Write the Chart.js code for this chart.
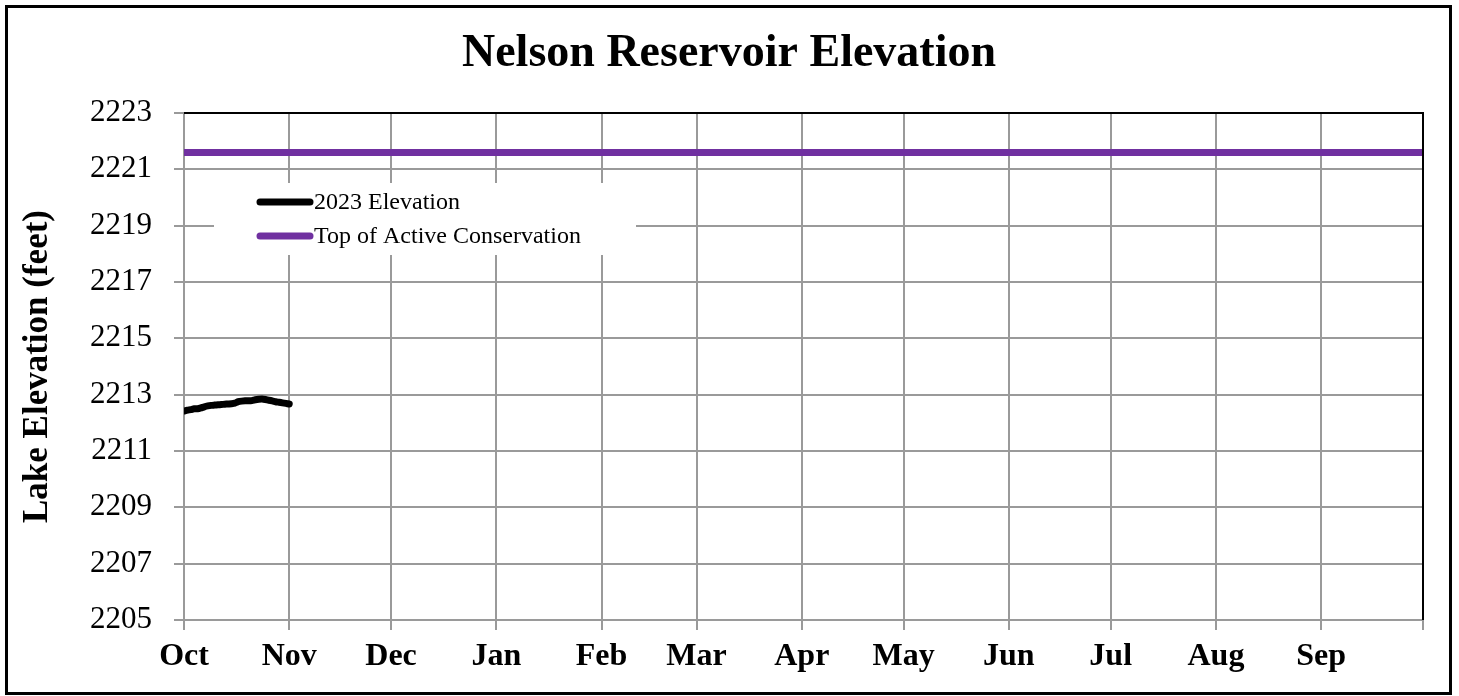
<!DOCTYPE html>
<html>
<head>
<meta charset="utf-8">
<script src="https://cdn.jsdelivr.net/npm/chart.js@4.4.0/dist/chart.umd.min.js"></script>
<style>
    html, body { margin: 0; padding: 0; background: #fff; }
    #wrap { width: 1459px; height: 696px; }
</style>
</head>
<body>
<div id="wrap"><canvas id="chartCanvas" width="1459" height="696"></canvas></div>
<script>
// 月份刻度（以10月1日为第0天）
const monthStarts = [0, 31, 61, 92, 123, 151, 182, 212, 243, 273, 304, 335, 365]
const monthLabels = ['Oct', 'Nov', 'Dec', 'Jan', 'Feb', 'Mar', 'Apr', 'May', 'Jun', 'Jul', 'Aug', 'Sep', '']

// 2023 水位（每日）
const elevDays = [0, 1, 2, 3, 4, 5, 6, 7, 8, 9, 10, 11, 12, 13, 14, 15,
    16, 17, 18, 19, 20, 21, 22, 23, 24, 25, 26, 27, 28, 29, 30, 31]
const elevValues = [2212.42, 2212.45, 2212.47, 2212.50, 2212.50, 2212.53, 2212.57, 2212.60,
    2212.62, 2212.63, 2212.64, 2212.65, 2212.66, 2212.67, 2212.68, 2212.70,
    2212.75, 2212.77, 2212.78, 2212.78, 2212.79, 2212.82, 2212.84, 2212.85,
    2212.83, 2212.80, 2212.78, 2212.75, 2212.73, 2212.71, 2212.69, 2212.67]

// Top of Active Conservation
const conservationDays = [0, 365]
const conservationValues = [2221.6, 2221.6]

const yTicks = [2205, 2207, 2209, 2211, 2213, 2215, 2217, 2219, 2221, 2223]

const chartTitle = 'Nelson Reservoir Elevation'
const serif = '"Liberation Serif", "Times New Roman", serif'

// 标题：居中于整张图
const centerTitle = {
    id: 'centerTitle',
    afterDraw(chart) {
        const ctx = chart.ctx
        ctx.save()
        ctx.fillStyle = '#000'
        ctx.font = 'bold 46px ' + serif
        ctx.textAlign = 'center'
        ctx.textBaseline = 'middle'
        ctx.fillText(chartTitle, 729, 54)
        ctx.restore()
    }
}

// 图内图例（白底）
const insideLegend = {
    id: 'insideLegend',
    afterDraw(chart) {
        const ctx = chart.ctx
        const area = chart.chartArea
        const bx = area.left + 30
        const by = area.top + 70
        ctx.save()
        ctx.fillStyle = '#fff'
        ctx.fillRect(bx, by, 422, 72)
        chart.data.datasets.forEach((ds, i) => {
            const y = by + 19 + i * 34
            ctx.strokeStyle = ds.borderColor
            ctx.lineWidth = 7
            ctx.lineCap = 'round'
            ctx.beginPath()
            ctx.moveTo(bx + 46, y)
            ctx.lineTo(bx + 96, y)
            ctx.stroke()
            ctx.fillStyle = '#000'
            ctx.font = '24px ' + serif
            ctx.textBaseline = 'middle'
            ctx.textAlign = 'left'
            ctx.fillText(ds.label, bx + 100, y + 1)
        })
        ctx.restore()
    }
}

// 绘图区上/右黑边 + 外框
const frame = {
    id: 'frame',
    afterDraw(chart) {
        const ctx = chart.ctx
        const a = chart.chartArea
        ctx.save()
        ctx.strokeStyle = '#000'
        ctx.lineWidth = 2
        ctx.beginPath()
        ctx.moveTo(a.left, a.top)
        ctx.lineTo(a.right, a.top)
        ctx.lineTo(a.right, a.bottom)
        ctx.stroke()
        ctx.lineWidth = 3
        ctx.strokeRect(6.5, 6.5, 1444, 687)
        ctx.restore()
    }
}

const ctx = document.getElementById('chartCanvas').getContext('2d')
const chart = new Chart(ctx, {
    type: 'line',
    data: {
        datasets: [
            {
                label: '2023 Elevation',
                data: elevDays.map((d, i) => ({ x: d, y: elevValues[i] })),
                borderColor: '#000000',
                borderWidth: 7,
                borderCapStyle: 'round',
                pointRadius: 0,
                tension: 0.2
            },
            {
                label: 'Top of Active Conservation',
                data: conservationDays.map((d, i) => ({ x: d, y: conservationValues[i] })),
                borderColor: '#7030A0',
                borderWidth: 7,
                pointRadius: 0
            }
        ]
    },
    options: {
        responsive: false,
        animation: false,
        layout: { padding: { left: 0, right: 36, top: 113, bottom: 0 } },
        plugins: {
            legend: { display: false },
            tooltip: { enabled: false },
            title: { display: false }
        },
        scales: {
            x: {
                type: 'linear',
                min: 0,
                max: 365,
                afterBuildTicks: scale => {
                    scale.ticks = monthStarts.map(v => ({ value: v }))
                },
                afterFit: scale => { scale.height = 76 },
                ticks: {
                    color: '#000',
                    font: { family: serif, size: 32, weight: 'bold' },
                    padding: 8,
                    maxRotation: 0,
                    autoSkip: false,
                    callback: value => monthLabels[monthStarts.indexOf(value)] ?? ''
                },
                grid: { color: '#9a9a9a', lineWidth: 2, tickLength: 10 },
                border: { color: '#9a9a9a', width: 2 }
            },
            y: {
                min: 2205,
                max: 2223,
                afterBuildTicks: scale => {
                    scale.ticks = yTicks.map(v => ({ value: v }))
                },
                afterFit: scale => { scale.width = 184 },
                ticks: {
                    color: '#000',
                    font: { family: serif, size: 31 },
                    padding: 22,
                    callback: value => String(value)
                },
                grid: { color: '#9a9a9a', lineWidth: 2, tickLength: 10 },
                border: { color: '#9a9a9a', width: 2 },
                title: {
                    display: true,
                    text: 'Lake Elevation (feet)',
                    color: '#000',
                    font: { family: serif, size: 35, weight: 'bold' },
                    padding: { top: 17, bottom: 0 }
                }
            }
        }
    },
    plugins: [centerTitle, insideLegend, frame]
})
</script>
</body>
</html>
